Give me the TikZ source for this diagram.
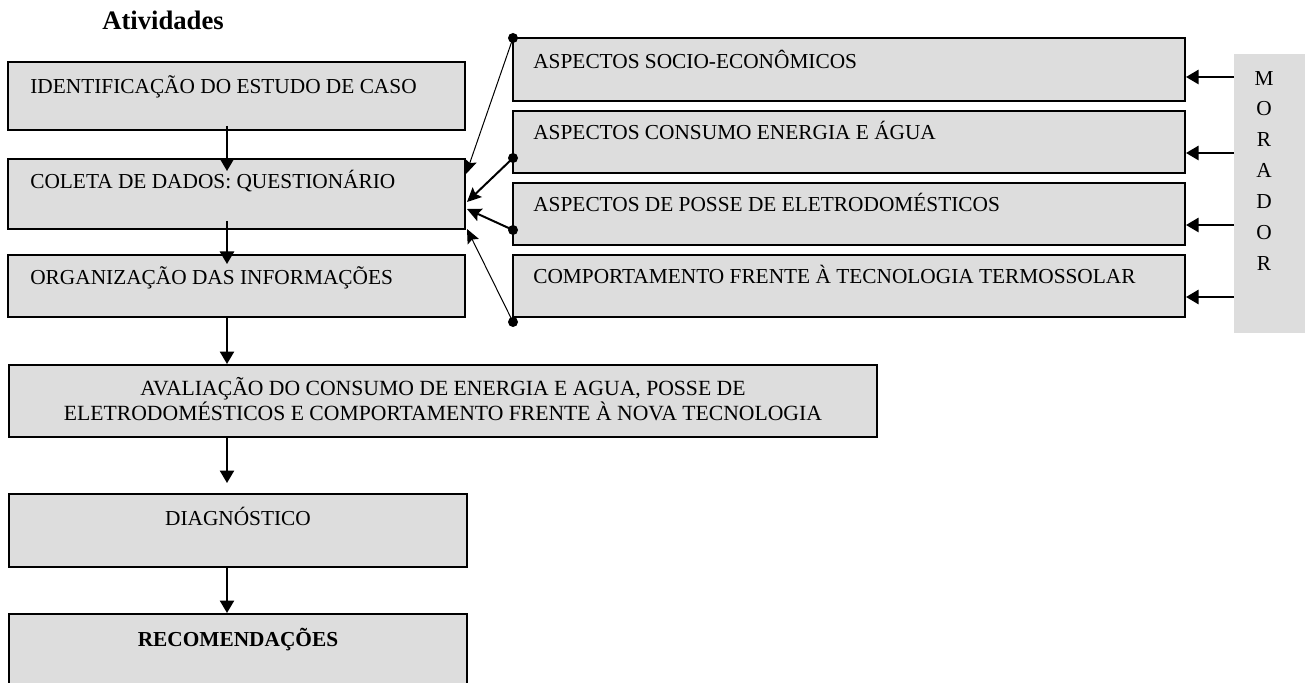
\documentclass[tikz,border=0pt]{standalone}
\usepackage{fontspec}
\setmainfont{Liberation Serif}
\usetikzlibrary{arrows.meta,fit,calc}
\definecolor{boxgray}{RGB}{221,221,221}
\begin{document}
\begin{tikzpicture}[x=0.6pt,y=-0.6pt,
  box/.style={draw=black, line width=1.2pt, fill=boxgray, inner sep=0pt},
  shade/.style={fill=boxgray, inner sep=0pt},
  txt/.style={inner sep=0pt, font=\fontsize{12.8}{15}\selectfont},
  arr/.style={line width=1.2pt, -{Triangle[length=7.5pt,width=8.5pt]}},
  thinarr/.style={line width=0.6pt, -{Stealth[length=8.5pt,width=7.5pt,inset=1.5pt]}},
  thickarr/.style={line width=1.2pt, -{Stealth[length=8.5pt,width=8pt,inset=1.5pt]}},
  dot/.style={circle, fill=black, inner sep=0pt, minimum size=6pt}]
\useasboundingbox (0,0) rectangle (1305,683);

% title
\node[txt, anchor=base, font=\fontsize{16}{18}\selectfont\bfseries] (title) at (163,30) {Atividades};

% left column boxes
\node[box, fit={(8,62)(465,130)}] (b1) {};
\node[box, fit={(8,159)(465,229)}] (b2) {};
\node[box, fit={(8,255)(465,317)}] (b3) {};
\node[box, fit={(9,365)(877,437)}] (b4) {};
\node[box, fit={(9,494)(467,567)}] (b5) {};
\node[box, fit={(9,614)(467,700)}] (b6) {};

\node[txt, anchor=base west] (t1) at (30,94) {IDENTIFICAÇÃO DO ESTUDO DE CASO};
\node[txt, anchor=base west] (t2) at (30,189) {COLETA DE DADOS: QUESTIONÁRIO};
\node[txt, anchor=base west] (t3) at (30,285) {ORGANIZAÇÃO DAS INFORMAÇÕES};
\node[txt, anchor=base, font=\fontsize{13}{15}\selectfont] (t4a) at (443,395) {AVALIAÇÃO DO CONSUMO DE ENERGIA E AGUA, POSSE DE};
\node[txt, anchor=base, font=\fontsize{13}{15}\selectfont] (t4b) at (443,420) {ELETRODOMÉSTICOS E COMPORTAMENTO FRENTE À NOVA TECNOLOGIA};
\node[txt, anchor=base] (t5) at (238,525) {DIAGNÓSTICO};
\node[txt, anchor=base, font=\fontsize{12.8}{15}\selectfont\bfseries] (t6) at (238,646) {RECOMENDAÇÕES};

% right column boxes
\node[box, fit={(513,38)(1185,101)}] (r1) {};
\node[box, fit={(513,111)(1185,173)}] (r2) {};
\node[box, fit={(513,183)(1185,245)}] (r3) {};
\node[box, fit={(513,255)(1185,317)}] (r4) {};

\node[txt, anchor=base west] (s1) at (533,69) {ASPECTOS SOCIO-ECONÔMICOS};
\node[txt, anchor=base west] (s2) at (533,140) {ASPECTOS CONSUMO ENERGIA E ÁGUA};
\node[txt, anchor=base west] (s3) at (533,212) {ASPECTOS DE POSSE DE ELETRODOMÉSTICOS};
\node[txt, anchor=base west] (s4) at (533,284) {COMPORTAMENTO FRENTE À TECNOLOGIA TERMOSSOLAR};

% MORADOR
\node[shade, fit={(1234,54)(1310,333)}] (mor) {};
\node[txt, anchor=base, align=center, font=\fontsize{12.8}{18.6}\selectfont] (mortxt) at (1264,271) {M\\O\\R\\A\\D\\O\\R};

% vertical arrows
\coordinate (ax) at (227,0);
\draw[arr, shorten <=-3pt, shorten >=-7.8pt] (b1.south -| ax) -- (b2.north -| ax);
\draw[arr, shorten <=-5.4pt, shorten >=-6pt] (b2.south -| ax) -- (b3.north -| ax);
\draw[arr] (b3.south -| ax) -- (b4.north -| ax);
\draw[arr, shorten >=6pt] (b4.south -| ax) -- (b5.north -| ax);
\draw[arr] (b5.south -| ax) -- (b6.north -| ax);

% dots and diagonal arrows
\node[dot] (d1) at (513,38) {};
\node[dot] (d2) at (513,158) {};
\node[dot] (d3) at (513,230) {};
\node[dot] (d4) at (513,322) {};
\coordinate (e1) at (466,174);
\coordinate (e2) at (467,202);
\coordinate (e3) at (467,209);
\coordinate (e4) at (467,229);
\draw[thinarr] (d1.center) -- (e1);
\draw[thickarr] (d2.center) -- (e2);
\draw[thickarr] (d3.center) -- (e3);
\draw[thinarr] (d4.center) -- (e4);

% MORADOR arrows
\draw[arr] (mor.west |- 0,77) -- (r1.east |- 0,77);
\draw[arr] (mor.west |- 0,153) -- (r2.east |- 0,153);
\draw[arr] (mor.west |- 0,225) -- (r3.east |- 0,225);
\draw[arr] (mor.west |- 0,297) -- (r4.east |- 0,297);
\end{tikzpicture}
\end{document}
